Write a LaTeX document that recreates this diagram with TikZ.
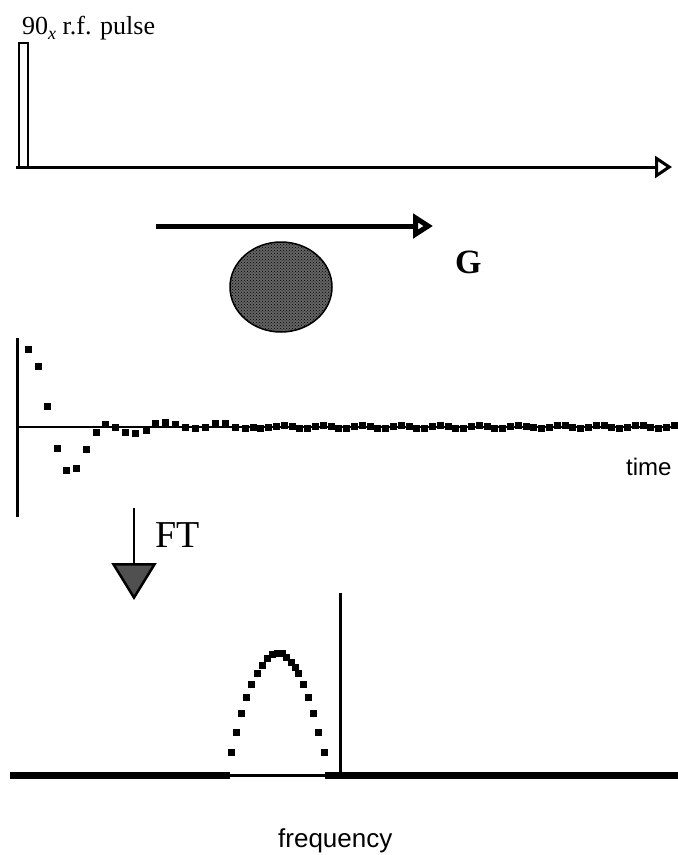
\documentclass[tikz,border=0pt]{standalone}
\usepackage{fontspec}
\setmainfont{Liberation Serif}
\newfontfamily\arialfont{Liberation Sans}
\usetikzlibrary{arrows.meta,patterns}
\definecolor{samplegray}{RGB}{100,100,100}
\definecolor{ftgray}{RGB}{80,80,80}
\tikzset{
  lbl/.style={inner sep=0pt, anchor=base west},
  axisline/.style={line width=3pt},
  dotsq/.style={fill=black},
}
\newcommand{\sqpt}[2]{\fill[dotsq] (#1-3.5,#2-3.5) rectangle ++(7,7);}
\begin{document}
\begin{tikzpicture}[x=1pt,y=-1pt]
\useasboundingbox (0,0) rectangle (678,855);
% ---------- r.f. pulse ----------
\node[lbl] (pulselbl) at (22,34) {\fontsize{26}{30}\selectfont 90\raisebox{-0.22em}{\fontsize{18}{20}\selectfont\itshape x} r.f. pulse};
\draw[line width=2pt] (18.5,43) rectangle (27.5,167);
\coordinate (t0) at (16,167);
\coordinate (t1) at (672,167);
\draw[axisline,-{Triangle[open,length=17pt,width=22pt]}] (t0) -- (t1);
% ---------- gradient ----------
\coordinate (g0) at (156,226);
\coordinate (g1) at (433,226);
\draw[line width=5pt,-{Triangle[open,length=20pt,width=24pt]}] (g0) -- (g1);
\node[lbl] (G) at (455,273) {\fontsize{34}{38}\selectfont\bfseries G};
\fill[samplegray] (281,287) ellipse [x radius=51, y radius=45];
\fill[pattern=crosshatch dots, pattern color=black] (281,287) ellipse [x radius=51, y radius=45];
\draw[line width=1.5pt] (281,287) ellipse [x radius=51, y radius=45];
% ---------- FID ----------
\draw[axisline] (17,338) -- (17,517);
\draw[line width=2pt] (17,427) -- (678,427);
\foreach \x/\y in {28/349,38/366,47/406,57/448,66/470,76/468,86/449,96/432,105/424,115/427,
  125/432,135/433,146/430,155/423,165/422,175/424,185/427,195/428,205/427,215/423,225/423,
  235/427,245/428}{\sqpt{\x}{\y}}
\foreach \i in {0,...,54}{
  \pgfmathsetmacro\xx{253+7.8*\i}
  \pgfmathsetmacro\yy{427+1.6*sin(\i*71)}
  \sqpt{\xx}{\yy}
}
\node[lbl] (timelbl) at (626,475) {\arialfont\fontsize{24}{28}\selectfont time};
% ---------- FT arrow ----------
\coordinate (f0) at (134,508);
\coordinate (f1) at (134,600);
\draw[line width=2.5pt,-{Triangle[length=37pt,width=45pt,fill=ftgray]}] (f0) -- (f1);
\node[lbl] (FT) at (155,547) {\fontsize{38}{42}\selectfont FT};
% ---------- spectrum ----------
\draw[line width=7pt] (10,775) -- (230,775);
\draw[line width=3pt] (230,775) -- (325,775);
\draw[line width=7pt] (325,775) -- (678,775);
\draw[axisline] (340,593) -- (340,778);
\foreach \x/\y in {231/752,236/732,241/713,246/697,251/684,257/673,262/665,267/658,272/654,
  277/653,282/653,286/657,291/662,295/667,298/673,303/684,308/697,313/713,318/732,324/752}{\sqpt{\x}{\y}}
\node[lbl] (freqlbl) at (278,847) {\arialfont\fontsize{26}{30}\selectfont frequency};
\end{tikzpicture}
\end{document}
